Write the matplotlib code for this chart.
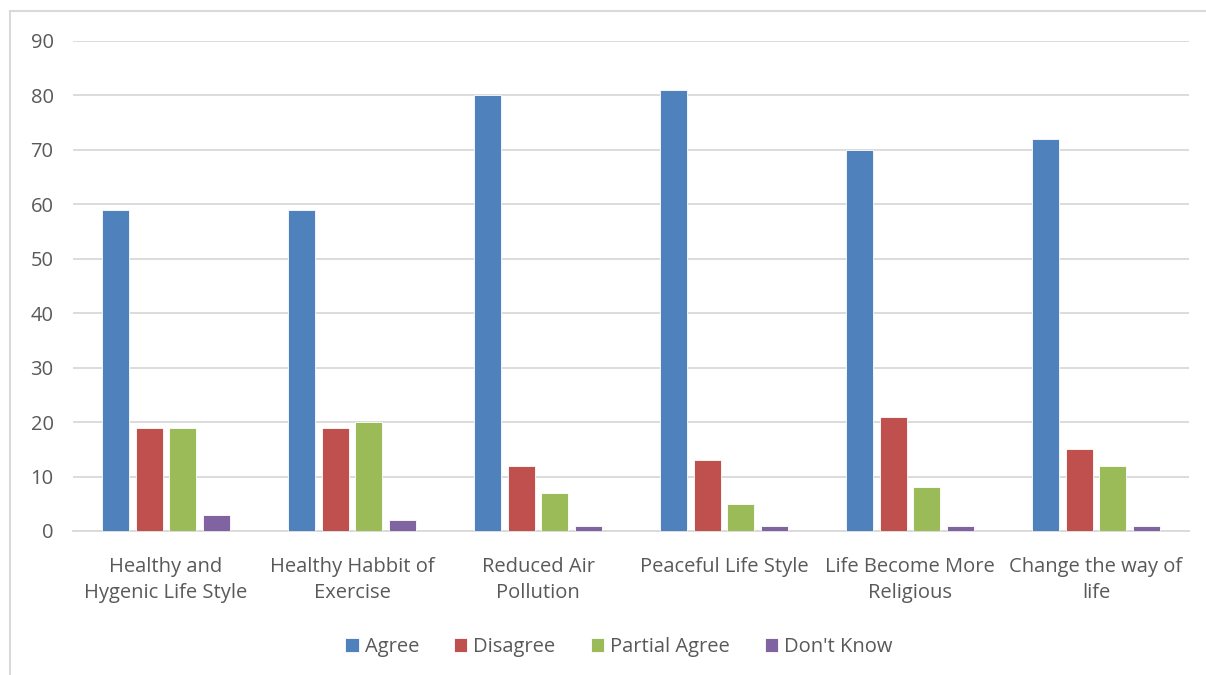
import matplotlib.pyplot as plt
import numpy as np
from matplotlib.patches import Rectangle

# data
categories = ["Healthy and\nHygenic Life Style", "Healthy Habbit of\nExercise",
              "Reduced Air\nPollution", "Peaceful Life Style",
              "Life Become More\nReligious", "Change the way of\nlife"]
agree = [59, 59, 80, 81, 70, 72]
disagree = [19, 19, 12, 13, 21, 15]
partial_agree = [19, 20, 7, 5, 8, 12]
dont_know = [3, 2, 1, 1, 1, 1]
series_names = ["Agree", "Disagree", "Partial Agree", "Don't Know"]
colors = ["#4F81BD", "#C0504D", "#9BBB59", "#8064A2"]

plt.rcParams['font.family'] = ['Open Sans', 'DejaVu Sans']
txt = "#595959"
grid = "#D9D9D9"
fs = 14.5

fig = plt.figure(figsize=(12.06, 6.75), dpi=100)
ax = fig.add_axes([73/1206, 1-531/675, (1189-73)/1206, (531-41)/675])

x = np.arange(len(categories))
width = 0.145
step = 0.181
for i, (vals, name, c) in enumerate(zip([agree, disagree, partial_agree, dont_know], series_names, colors)):
    ax.bar(x + (i - 1.5)*step, vals, width, color=c, label=name, edgecolor='white', linewidth=0.6, zorder=3)

ax.set_xlim(-0.5, len(categories)-0.5)
ax.set_ylim(0, 90)
ax.set_yticks(range(0, 91, 10))
ax.set_xticks(x)
ax.set_xticklabels(categories, fontsize=fs, color=txt, linespacing=1.45)
ax.tick_params(axis='y', labelsize=fs, labelcolor=txt, length=0, pad=14)
ax.tick_params(axis='x', length=0, pad=18.5)
ax.grid(axis='y', color=grid, linewidth=1.3, zorder=0)
for s in ['top', 'right', 'left']:
    ax.spines[s].set_visible(False)
ax.spines['bottom'].set_color(grid)
ax.spines['bottom'].set_linewidth(1.3)

fig.legend(loc='center', bbox_to_anchor=(619/1206, 1-647/675), ncol=4, frameon=False,
           fontsize=fs, labelcolor=txt, handlelength=0.65, handleheight=0.65,
           handletextpad=0.3, columnspacing=1.75)

# light chart border like the Excel frame
fig.patches.append(Rectangle((10/1206, -0.1), 1.2, 1-11/675+0.1, transform=fig.transFigure,
                             fill=False, edgecolor=grid, linewidth=1.5))

fig.savefig("out.png", dpi=100)
